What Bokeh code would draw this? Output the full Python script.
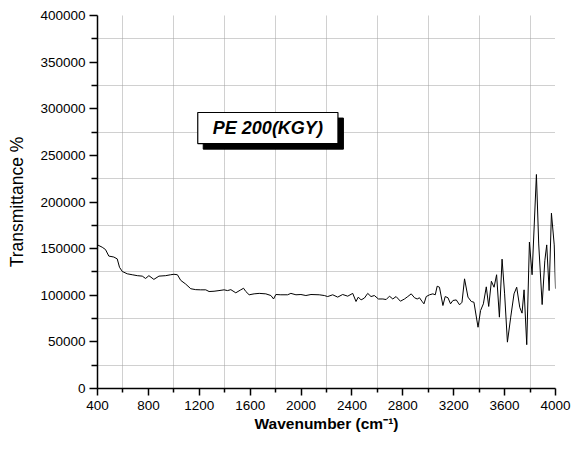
from bokeh.plotting import figure
from bokeh.models import FixedTicker, BasicTickFormatter, Label, BoxAnnotation, Range1d
from bokeh.embed import file_html
from bokeh.resources import INLINE

# ---- data ----
wavenumber = [400, 437, 463, 489, 528, 555, 573, 595, 634, 673, 713, 752, 778, 804, 843, 883,
              936, 975, 1001, 1028, 1054, 1093, 1133, 1172, 1211, 1251, 1277, 1316, 1355, 1395,
              1422, 1448, 1487, 1526, 1548, 1566, 1592, 1631, 1671, 1723, 1763, 1784, 1802, 1841,
              1894, 1920, 1960, 1999, 2038, 2078, 2143, 2183, 2209, 2249, 2288, 2327, 2367, 2406,
              2432, 2450, 2472, 2498, 2524, 2550, 2576, 2608, 2643, 2669, 2695, 2721, 2747, 2781,
              2813, 2839, 2866, 2892, 2913, 2931, 2950, 2966, 2984, 3010, 3036, 3055, 3070, 3088,
              3115, 3133, 3155, 3175, 3194, 3220, 3246, 3265, 3285, 3312, 3338, 3359, 3391, 3411,
              3433, 3456, 3475, 3496, 3517, 3537, 3559, 3580, 3600, 3622, 3648, 3674, 3695, 3719,
              3737, 3753, 3774, 3795, 3816, 3850, 3868, 3895, 3916, 3931, 3950, 3968, 3990, 4000]
transmittance = [154000, 151500, 149000, 142000, 141000, 139000, 130000, 125500, 123000, 122000,
                 121000, 120500, 118000, 121000, 117000, 120500, 121000, 122000, 122500, 122000,
                 116000, 112000, 107000, 106000, 105800, 105800, 104000, 104300, 105000, 105800,
                 105000, 106000, 102600, 105800, 107500, 104000, 100500, 101500, 102000, 101500,
                 99700, 96000, 100800, 100500, 100500, 102000, 100500, 100800, 99700, 100800,
                 100500, 99700, 98600, 100500, 98000, 100800, 99000, 102000, 93300, 98000,
                 95000, 97000, 102000, 98600, 99700, 96000, 96000, 95400, 99000, 96000,
                 98600, 93600, 96000, 98600, 101500, 97300, 96000, 97300, 93600, 90800,
                 98600, 100500, 101500, 100500, 109700, 108600, 89000, 98600, 97300, 90800,
                 94400, 95000, 89700, 92500, 117600, 98000, 93300, 92500, 65700, 83600,
                 90800, 109000, 88000, 115000, 108600, 122000, 76500, 138700, 101500, 49700,
                 76500, 101500, 108600, 87000, 80800, 105800, 47000, 157000, 122000, 229500,
                 155000, 90000, 137000, 154000, 105000, 188000, 154000, 107000]

x_major_ticks = list(range(400, 4001, 400))
x_minor_ticks = list(range(600, 4000, 400))
y_major_ticks = list(range(0, 400001, 50000))
y_minor_ticks = list(range(25000, 400000, 50000))

x_label = "Wavenumber (cm\u207b\u00b9)"
y_label = "Transmittance %"
box_text = "PE 200(KGY)"

FONT = "Liberation Sans"

p = figure(width=571, height=443, output_backend="svg", toolbar_location=None, title=None,
           x_range=Range1d(400, 4000), y_range=Range1d(0, 400000),
           min_border_left=97, min_border_right=16, min_border_top=15, min_border_bottom=55)
p.outline_line_color = None
p.background_fill_color = "white"
p.border_fill_color = "white"

p.xaxis.ticker = FixedTicker(ticks=x_major_ticks, minor_ticks=x_minor_ticks)
p.yaxis.ticker = FixedTicker(ticks=y_major_ticks, minor_ticks=y_minor_ticks)
# grid lines sit at the minor tick positions only
p.xgrid.ticker = FixedTicker(ticks=x_minor_ticks)
p.ygrid.ticker = FixedTicker(ticks=y_minor_ticks)
p.yaxis.formatter = BasicTickFormatter(use_scientific=False)

for g in (p.xgrid, p.ygrid):
    g.grid_line_color = "#a0a0a0"
    g.grid_line_dash = "1 1"
    g.grid_line_width = 1

for ax in (p.xaxis, p.yaxis):
    ax.axis_line_color = "black"
    ax.axis_line_width = 1.5
    ax.major_tick_line_color = "black"
    ax.major_tick_line_width = 1.5
    ax.minor_tick_line_color = "black"
    ax.minor_tick_line_width = 1.5
    ax.major_tick_in = 0
    ax.minor_tick_in = 0
    ax.major_label_text_font = FONT
    ax.major_label_text_font_size = "13.5px"
    ax.major_label_text_color = "black"
    ax.axis_label_text_font = FONT
    ax.axis_label_text_color = "black"

p.xaxis.major_tick_out = 7
p.xaxis.minor_tick_out = 4
p.yaxis.major_tick_out = 8
p.yaxis.minor_tick_out = 6
p.xaxis.major_label_standoff = 5
p.yaxis.major_label_standoff = 4

p.xaxis.axis_label = x_label
p.xaxis.axis_label_text_font_style = "bold"
p.xaxis.axis_label_text_font_size = "15.5px"
p.xaxis.axis_label_standoff = 2

p.yaxis.axis_label = y_label
p.yaxis.axis_label_text_font_style = "normal"
p.yaxis.axis_label_text_font_size = "17.5px"
p.yaxis.axis_label_standoff = 10

p.line(wavenumber, transmittance, line_color="black", line_width=1)

# annotation box with drop shadow
shadow = BoxAnnotation(left=1231, right=2333, bottom=256700, top=290000,
                       fill_color="black", fill_alpha=1, line_color="black",
                       line_alpha=1, line_width=1)
box = BoxAnnotation(left=1188, right=2290, bottom=262700, top=296000,
                    fill_color="white", fill_alpha=1, line_color="black",
                    line_alpha=1, line_width=1.2)
p.add_layout(shadow)
p.add_layout(box)
p.add_layout(Label(x=1739, y=279350, text=box_text, text_align="center", text_baseline="middle",
                   text_font=FONT, text_font_style="bold italic", text_font_size="18px",
                   text_color="black"))

open("out.html", "w").write(file_html(p, INLINE))
